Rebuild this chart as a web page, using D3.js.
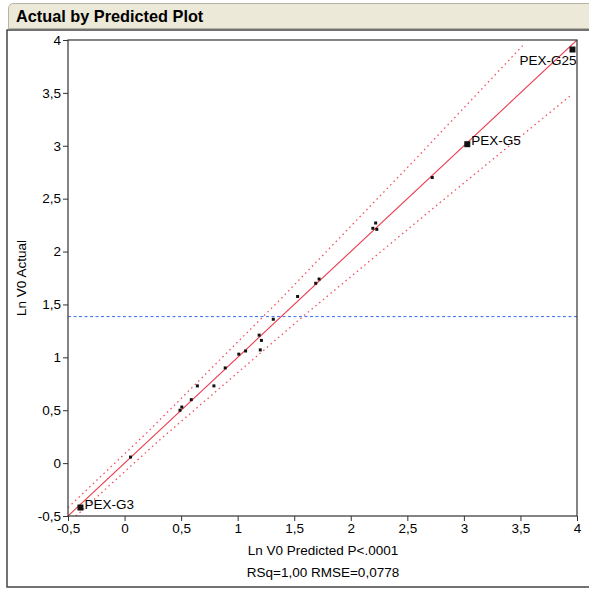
<!DOCTYPE html>
<html>
<head>
<meta charset="utf-8">
<script src="https://cdn.jsdelivr.net/npm/d3@7"></script>
<style>
  body { margin: 0; background: #fff; }
  text { font-family: Arial, "Liberation Sans", sans-serif; }
</style>
</head>
<body>
<div id="container"></div>
<script>
let w = 589;
let h = 589;

// data
let predicted = [-0.39, 0.053, 0.49, 0.506, 0.59, 0.644, 0.79, 0.89, 1.01, 1.07, 1.19, 1.21, 1.20, 1.315, 1.53, 1.69, 1.72, 2.195, 2.22, 2.23, 2.72, 3.03, 3.96];
let actual    = [-0.42, 0.057, 0.50, 0.53, 0.60, 0.73, 0.73, 0.90, 1.03, 1.06, 1.21, 1.16, 1.07, 1.36, 1.575, 1.70, 1.74, 2.22, 2.27, 2.21, 2.70, 3.015, 3.91];
let pointNames = ["PEX-G3", "", "", "", "", "", "", "", "", "", "", "", "", "", "", "", "", "", "", "", "", "PEX-G5", "PEX-G25"];

let fitLine = [[-0.5, -0.5], [4, 4]];
let upperCurve = [[-0.5, -0.42], [0.2, 0.29], [1.37, 1.54], [2.56, 2.86], [3.54, 3.97]];
let lowerCurve = [[-0.43, -0.5], [0.29, 0.2], [1.57, 1.38], [2.78, 2.455], [3.96, 3.49]];
let meanActual = 1.385;

let xTicks = [-0.5, 0, 0.5, 1, 1.5, 2, 2.5, 3, 3.5, 4];
let yTicks = [-0.5, 0, 0.5, 1, 1.5, 2, 2.5, 3, 3.5, 4];

let viz = d3.select("#container")
  .append("svg")
    .attr("width", w)
    .attr("height", h)
;

// title bar
viz.append("path")
  .attr("d", "M8.5,28.5 L8.5,9 Q8.5,3.5 14,3.5 L600,3.5 L600,28.5 Z")
  .attr("fill", "#ece9d8")
  .attr("stroke", "#b8b4a4")
;
viz.append("text")
  .text("Actual by Predicted Plot")
  .attr("x", 16)
  .attr("y", 22)
  .attr("font-size", "16.3px")
  .attr("font-weight", "bold")
  .attr("fill", "#000")
;

// outer frame
viz.append("rect")
  .attr("x", 7)
  .attr("y", 30)
  .attr("width", 620)
  .attr("height", 557)
  .attr("fill", "none")
  .attr("stroke", "#444")
  .attr("stroke-width", 1.5)
;

let xScale = d3.scaleLinear().domain([-0.5, 4]).range([68, 577]);
let yScale = d3.scaleLinear().domain([-0.5, 4]).range([516, 40]);

function fmt(d){
  return String(d).replace(".", ",");
}

let plot = viz.append("g").attr("class", "plot");

plot.append("clipPath").attr("id", "clip")
  .append("rect")
    .attr("x", 68).attr("y", 40)
    .attr("width", 509).attr("height", 476)
;

let inner = plot.append("g").attr("clip-path", "url(#clip)");

// mean line
inner.append("line")
  .attr("x1", xScale(-0.5))
  .attr("x2", xScale(4))
  .attr("y1", yScale(meanActual))
  .attr("y2", yScale(meanActual))
  .attr("stroke", "#3a6cf0")
  .attr("stroke-width", 1)
  .attr("stroke-dasharray", "3,2.5")
;

let line = d3.line()
  .x(function(d){ return xScale(d[0]); })
  .y(function(d){ return yScale(d[1]); });

inner.append("path")
  .datum(upperCurve)
  .attr("d", line)
  .attr("fill", "none")
  .attr("stroke", "#f0505e")
  .attr("stroke-width", 1.3)
  .attr("stroke-dasharray", "1.5,3.4")
;
inner.append("path")
  .datum(lowerCurve)
  .attr("d", line)
  .attr("fill", "none")
  .attr("stroke", "#f0505e")
  .attr("stroke-width", 1.3)
  .attr("stroke-dasharray", "1.5,3.4")
;
inner.append("path")
  .datum(fitLine)
  .attr("d", line)
  .attr("fill", "none")
  .attr("stroke", "#ec3a4c")
  .attr("stroke-width", 1.1)
;

// points
let pts = predicted.map(function(p, i){
  return {x: p, y: actual[i], name: pointNames[i]};
});

inner.selectAll(".pt").data(pts).enter()
  .append("rect")
    .attr("class", "pt")
    .attr("x", function(d){ return xScale(d.x) - (d.name ? 3 : 1.5); })
    .attr("y", function(d){ return yScale(d.y) - (d.name ? 3 : 1.5); })
    .attr("width", function(d){ return d.name ? 6 : 3; })
    .attr("height", function(d){ return d.name ? 6 : 3; })
    .attr("fill", "#111")
;

let labelled = pts.filter(function(d){ return d.name; });
plot.selectAll(".lab").data(labelled).enter()
  .append("text")
    .attr("class", "lab")
    .text(function(d){ return d.name; })
    .attr("x", function(d){ return d.name == "PEX-G25" ? xScale(d.x) - 53 : xScale(d.x) + 4; })
    .attr("y", function(d){ return d.name == "PEX-G25" ? yScale(d.y) + 15 : yScale(d.y) + 1; })
    .attr("font-size", "13.5px")
    .attr("fill", "#000")
;

// plot box
plot.append("rect")
  .attr("x", 68).attr("y", 40)
  .attr("width", 509).attr("height", 476)
  .attr("fill", "none")
  .attr("stroke", "#333")
  .attr("stroke-width", 1.2)
;

// axes
let xAxis = d3.axisBottom(xScale).tickValues(xTicks).tickFormat(fmt).tickSize(5).tickPadding(2);
let xAxisGroup = viz.append("g").attr("class", "xaxis")
  .attr("transform", "translate(0,516)")
  .call(xAxis);

let yAxis = d3.axisLeft(yScale).tickValues(yTicks).tickFormat(fmt).tickSize(5).tickPadding(2);
let yAxisGroup = viz.append("g").attr("class", "yaxis")
  .attr("transform", "translate(68,0)")
  .call(yAxis);

viz.selectAll(".xaxis, .yaxis").selectAll(".domain").remove();
viz.selectAll(".xaxis line, .yaxis line").attr("stroke", "#333");
viz.selectAll(".xaxis text, .yaxis text")
  .attr("font-size", "13.5px")
  .attr("font-family", "Arial, 'Liberation Sans', sans-serif")
  .attr("fill", "#000")
;

// axis titles
viz.append("text")
  .text("Ln V0 Predicted P<.0001")
  .attr("x", 323)
  .attr("y", 555)
  .attr("text-anchor", "middle")
  .attr("font-size", "13.5px")
;
viz.append("text")
  .text("RSq=1,00 RMSE=0,0778")
  .attr("x", 323)
  .attr("y", 577)
  .attr("text-anchor", "middle")
  .attr("font-size", "13.5px")
;
viz.append("text")
  .text("Ln V0 Actual")
  .attr("transform", "translate(26,278) rotate(-90)")
  .attr("text-anchor", "middle")
  .attr("font-size", "13.5px")
;
</script>
</body>
</html>
